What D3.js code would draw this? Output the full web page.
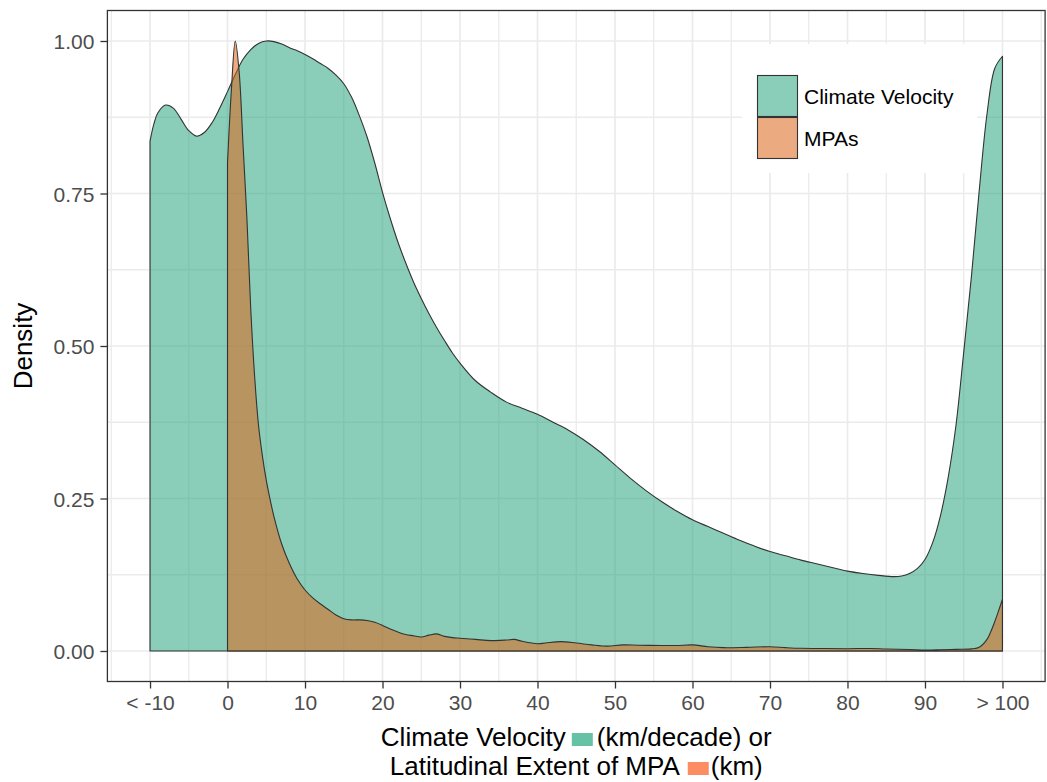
<!DOCTYPE html>
<html>
<head>
<meta charset="utf-8">
<script src="https://cdn.jsdelivr.net/npm/d3@7"></script>
<style>
  html, body { margin: 0; padding: 0; background: #ffffff; }
  svg { display: block; font-family: "Liberation Sans", Arial, Helvetica, sans-serif; }
</style>
</head>
<body>
<svg id="chart" width="1047" height="782"></svg>
<script>
// ---------------- data ----------------
const seriesNames = ["Climate Velocity", "MPAs"];

const cvX = [-10,-9.5,-9,-8,-7,-6,-5,-4,-3,-2,-1,0,1,2,3,4,5,6,7,8,9,10,11,12,13,14,15,16,17,18,19,20,21,22,23,24,25,26,27,28,29,30,32,34,36,38,40,42,44,46,48,50,52,54,56,58,60,62,64,66,68,70,72,74,76,78,80,82,84,86,87,88,89,90,91,92,93,94,95,96,97,98,99,100];
const cvDensity = [0.836,0.864,0.882,0.895,0.890,0.872,0.853,0.844,0.850,0.866,0.890,0.917,0.945,0.970,0.986,0.996,1.000,0.999,0.995,0.989,0.984,0.978,0.971,0.963,0.955,0.944,0.930,0.908,0.878,0.843,0.800,0.752,0.709,0.670,0.636,0.605,0.578,0.553,0.530,0.509,0.489,0.472,0.443,0.424,0.408,0.398,0.388,0.375,0.362,0.346,0.327,0.305,0.283,0.263,0.245,0.229,0.215,0.204,0.193,0.182,0.172,0.163,0.156,0.149,0.143,0.137,0.131,0.127,0.124,0.122,0.123,0.127,0.135,0.150,0.178,0.222,0.285,0.370,0.490,0.615,0.755,0.880,0.955,0.975];

const mpaX = [0,0.5,1,1.5,2,2.5,3,3.5,4,4.5,5,5.5,6,7,8,9,10,11,12,13,14,15,16,17,18,19,20,21,22,23,24,25,26,27,28,29,30,32,34,36,37,38,40,41,43,45,47,49,51,53,56,58,60,62,64,67,70,72,74,77,80,83,85,88,90,92,94,96,97,98,98.5,99,99.5,100];
const mpaDensity = [0.800,0.920,1.000,0.950,0.830,0.710,0.560,0.450,0.370,0.320,0.280,0.248,0.220,0.175,0.143,0.118,0.100,0.087,0.077,0.068,0.059,0.053,0.051,0.051,0.050,0.047,0.042,0.036,0.031,0.027,0.025,0.023,0.026,0.028,0.024,0.022,0.021,0.019,0.017,0.018,0.019,0.016,0.012,0.013,0.0153,0.013,0.010,0.008,0.010,0.0095,0.009,0.009,0.010,0.007,0.0055,0.006,0.007,0.0055,0.0044,0.004,0.0038,0.0042,0.0033,0.0025,0.0016,0.002,0.0027,0.0035,0.006,0.019,0.032,0.048,0.066,0.085];

const xTicks = [-10,0,10,20,30,40,50,60,70,80,90,100];
const xTickLabels = ["< -10","0","10","20","30","40","50","60","70","80","90","> 100"];
const xMinor = [-15,-5,5,15,25,35,45,55,65,75,85,95,105];
const yTicks = [0,0.25,0.5,0.75,1];
const yTickLabels = ["0.00","0.25","0.50","0.75","1.00"];
const yMinor = [0.125,0.375,0.625,0.875];

const yTitle = "Density";
const xTitleLine1 = ["Climate Velocity", "(km/decade) or"];
const xTitleLine2 = ["Latitudinal Extent of MPA", "(km)"];

// ---------------- styling ----------------
const fillColors = ["rgb(42,166,128)", "rgb(220,100,24)"];
const fillOpacity = 0.55;
const squareColors = ["#66c2a5", "#fc8d62"];

const svg = d3.select("#chart");
const P = { left: 107.4, right: 1045.1, top: 10.5, bottom: 681.5 };

const x = d3.scaleLinear().domain([-15.5, 105.5]).range([P.left, P.right]);
const y = d3.scaleLinear().domain([-0.05, 1.05]).range([P.bottom, P.top]);

// panel background
svg.append("rect").attr("x", P.left).attr("y", P.top)
  .attr("width", P.right - P.left).attr("height", P.bottom - P.top).attr("fill", "#fff");

// grid
const grid = svg.append("g");
grid.selectAll(".xmin").data(xMinor.filter(v => x(v) > P.left && x(v) < P.right)).join("line")
  .attr("x1", d => x(d)).attr("x2", d => x(d)).attr("y1", P.top).attr("y2", P.bottom)
  .attr("stroke", "#ebebeb").attr("stroke-width", 1.3);
grid.selectAll(".ymin").data(yMinor).join("line")
  .attr("y1", d => y(d)).attr("y2", d => y(d)).attr("x1", P.left).attr("x2", P.right)
  .attr("stroke", "#ebebeb").attr("stroke-width", 1.3);
grid.selectAll(".xmaj").data(xTicks).join("line")
  .attr("x1", d => x(d)).attr("x2", d => x(d)).attr("y1", P.top).attr("y2", P.bottom)
  .attr("stroke", "#ebebeb").attr("stroke-width", 1.7);
grid.selectAll(".ymaj").data(yTicks).join("line")
  .attr("y1", d => y(d)).attr("y2", d => y(d)).attr("x1", P.left).attr("x2", P.right)
  .attr("stroke", "#ebebeb").attr("stroke-width", 1.7);

// density areas
const area = d3.area()
  .x(d => x(d[0])).y0(y(0)).y1(d => y(Math.max(0, d[1])))
  .curve(d3.curveCatmullRom.alpha(0.5));

const cvData = cvX.map((v, i) => [v, cvDensity[i]]);
const mpaData = mpaX.map((v, i) => [v, mpaDensity[i]]);

[cvData, mpaData].forEach((data, i) => {
  svg.append("path").datum(data)
    .attr("d", area)
    .attr("fill", fillColors[i]).attr("fill-opacity", fillOpacity)
    .attr("stroke", "#333333").attr("stroke-width", 1.1)
    .attr("stroke-linejoin", "round");
});

// legend
const lg = svg.append("g");
lg.append("rect").attr("x", 742).attr("y", 44).attr("width", 235).attr("height", 129).attr("fill", "#fff");
seriesNames.forEach((name, i) => {
  const ky = 75 + i * 42;
  lg.append("rect").attr("x", 757).attr("y", ky).attr("width", 41).attr("height", 42)
    .attr("fill", "#fff");
  lg.append("rect").attr("x", 757.5).attr("y", ky + 0.5).attr("width", 40).attr("height", 41)
    .attr("fill", fillColors[i]).attr("fill-opacity", fillOpacity)
    .attr("stroke", "#333333").attr("stroke-width", 1.1);
  lg.append("text").attr("x", 804).attr("y", ky + 29).attr("font-size", 21)
    .attr("fill", "#000").text(name);
});

// panel border
svg.append("rect").attr("x", P.left).attr("y", P.top)
  .attr("width", P.right - P.left).attr("height", P.bottom - P.top)
  .attr("fill", "none").attr("stroke", "#333333").attr("stroke-width", 1.3);

// axes
const xAxis = d3.axisBottom(x).tickValues(xTicks)
  .tickFormat((d, i) => xTickLabels[i]).tickSize(7).tickSizeOuter(0).tickPadding(6.5);
const gx = svg.append("g").attr("transform", `translate(0,${P.bottom})`).call(xAxis);
gx.select(".domain").remove();
gx.selectAll("line").attr("stroke", "#333333").attr("stroke-width", 1.3);
gx.selectAll("text").attr("font-size", 21).attr("fill", "#4d4d4d")
  .attr("font-family", '"Liberation Sans", Arial, sans-serif');

const yAxis = d3.axisLeft(y).tickValues(yTicks)
  .tickFormat((d, i) => yTickLabels[i]).tickSize(7).tickSizeOuter(0).tickPadding(6);
const gy = svg.append("g").attr("transform", `translate(${P.left},0)`).call(yAxis);
gy.select(".domain").remove();
gy.selectAll("line").attr("stroke", "#333333").attr("stroke-width", 1.3);
gy.selectAll("text").attr("font-size", 21).attr("fill", "#4d4d4d").attr("dy", "0.36em")
  .attr("font-family", '"Liberation Sans", Arial, sans-serif');

// y title
svg.append("text").attr("transform", `translate(32,${(P.top + P.bottom) / 2}) rotate(-90)`)
  .attr("text-anchor", "middle").attr("font-size", 26).attr("fill", "#000").text(yTitle);

// x title with coloured squares
const cx = (P.left + P.right) / 2;
function titleLine(parts, color, baseline, gapBefore, gapAfter) {
  const g = svg.append("g");
  const t1 = g.append("text").attr("font-size", 26).attr("fill", "#000").attr("y", baseline).text(parts[0]);
  const t2 = g.append("text").attr("font-size", 26).attr("fill", "#000").attr("y", baseline).text(parts[1]);
  const w1 = t1.node().getComputedTextLength();
  const w2 = t2.node().getComputedTextLength();
  const sqW = 21, sqH = 13;
  const total = w1 + gapBefore + sqW + gapAfter + w2;
  const x0 = cx - total / 2;
  t1.attr("x", x0);
  g.append("rect").attr("x", x0 + w1 + gapBefore).attr("y", baseline - sqH)
    .attr("width", sqW).attr("height", sqH).attr("fill", color);
  t2.attr("x", x0 + w1 + gapBefore + sqW + gapAfter);
}
titleLine(xTitleLine1, squareColors[0], 746, 6, 4);
titleLine(xTitleLine2, squareColors[1], 775, 8, 2);
</script>
</body>
</html>
